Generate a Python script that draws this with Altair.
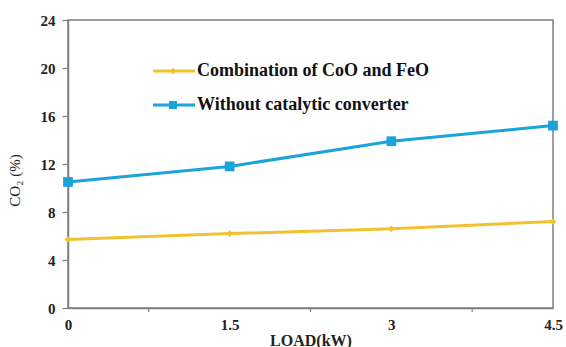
import altair as alt
import pandas as pd

loads = [0, 1.5, 3, 4.5]
series_names = ["Combination of CoO and FeO", "Without catalytic converter"]
coo_feo = [5.7, 6.2, 6.6, 7.2]
without_cat = [10.5, 11.8, 13.9, 15.2]
minor_ticks = [0.75, 2.25, 3.75]
colors = ["#F2C12E", "#1BA3DC"]
shapes = ["diamond", "square"]
legend_rank = [0, 1]

df = pd.DataFrame({
    "load": loads * 2,
    "co2": coo_feo + without_cat,
    "series": [series_names[0]] * 4 + [series_names[1]] * 4,
})
ticks_df = pd.DataFrame({"t": minor_ticks})
leg_df = pd.DataFrame({"series": series_names, "rank": legend_rank})

FONT = "Liberation Serif"
color_scale = alt.Scale(domain=series_names, range=colors)
shape_scale = alt.Scale(domain=series_names, range=shapes)
size_scale = alt.Scale(domain=series_names, range=[45, 95])
leg_size_scale = alt.Scale(domain=series_names, range=[40, 65])

x_enc = alt.X("load:Q", scale=alt.Scale(domain=[0, 4.5], nice=False),
              axis=alt.Axis(values=loads, ticks=False, grid=False, labelPadding=9,
                            title="LOAD(kW)", titlePadding=0, labelFontWeight="bold",
                            titleFontWeight="bold", titleFontSize=16, labelFlush=False,
                            format="~g"))
y_enc = alt.Y("co2:Q", scale=alt.Scale(domain=[0, 24], nice=False),
              axis=alt.Axis(values=[0, 4, 8, 12, 16, 20, 24], tickSize=6, grid=False,
                            labelPadding=7, title="CO₂ (%)", titleFontWeight="normal",
                            titleFontSize=15, labelFontWeight="bold",
                            titleX=-46, titleY=160))

lines = alt.Chart(df).mark_line(strokeWidth=3).encode(
    x=x_enc, y=y_enc,
    color=alt.Color("series:N", scale=color_scale, legend=None),
    detail="series:N",
)
points = alt.Chart(df).mark_point(filled=True, opacity=1).encode(
    x="load:Q", y="co2:Q",
    color=alt.Color("series:N", scale=color_scale, legend=None),
    shape=alt.Shape("series:N", scale=shape_scale, legend=None),
    size=alt.Size("series:N", scale=size_scale, legend=None),
)
minor = alt.Chart(ticks_df).mark_rule(color="#808080", strokeWidth=1.2).encode(
    x="t:Q", y=alt.value(288), y2=alt.value(292)
)

main = alt.layer(lines, points, minor)

leg_y = alt.Y("rank:Q", scale=alt.Scale(domain=[0, 1], range=[51, 85], nice=False,
                                        zero=False), axis=None)
leg_rule = alt.Chart(leg_df).mark_rule(strokeWidth=3).encode(
    x=alt.value(85), x2=alt.value(127), y=leg_y,
    color=alt.Color("series:N", scale=color_scale, legend=None),
)
leg_pt = alt.Chart(leg_df).mark_point(filled=True, opacity=1).encode(
    x=alt.value(105), y=leg_y,
    color=alt.Color("series:N", scale=color_scale, legend=None),
    shape=alt.Shape("series:N", scale=shape_scale, legend=None),
    size=alt.Size("series:N", scale=leg_size_scale, legend=None),
)
leg_txt = alt.Chart(leg_df).mark_text(align="left", baseline="middle", font=FONT,
                                      fontWeight="bold", fontSize=18, color="#111111").encode(
    x=alt.value(129), y=leg_y, text="series:N"
)
legend = alt.layer(leg_rule, leg_pt, leg_txt)

chart = alt.layer(main, legend).resolve_scale(
    y="independent", size="independent"
).properties(
    width=485, height=288,
    autosize=alt.AutoSizeParams(type="none"),
    padding={"left": 68, "top": 20, "right": 13, "bottom": 39},
).configure_view(
    stroke="#7f7f7f", strokeWidth=1.5
).configure_axis(
    labelFont=FONT, titleFont=FONT, labelFontSize=15, titleFontSize=15,
    labelColor="#222222", titleColor="#222222",
    domainColor="#7f7f7f", domainWidth=1.5, tickColor="#7f7f7f", tickWidth=1.2,
)

chart.save("out.html", embed_options={"renderer": "svg", "actions": False})
